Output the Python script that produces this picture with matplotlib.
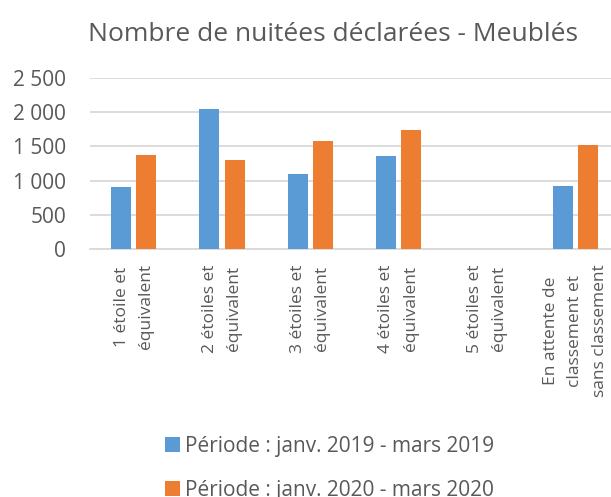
import numpy as np
import matplotlib
matplotlib.use("Agg")
import matplotlib.pyplot as plt
from matplotlib.ticker import FuncFormatter

categories = ["1 étoile et\néquivalent", "2 étoiles et\néquivalent", "3 étoiles et\néquivalent",
              "4 étoiles et\néquivalent", "5 étoiles et\néquivalent",
              "En attente de\nclassement et\nsans classement"]
serie_2019 = [911, 2051, 1096, 1364, 0, 921]
serie_2020 = [1368, 1295, 1579, 1740, 0, 1520]
labels = ["Période : janv. 2019 - mars 2019", "Période : janv. 2020 - mars 2020"]
yticks = [0, 500, 1000, 1500, 2000, 2500]

plt.rcParams['font.family'] = ['Open Sans', 'DejaVu Sans']
grey = "#595959"

fig = plt.figure(figsize=(6.11, 4.97), dpi=100)
ax = fig.add_axes([0.1466, 0.499, 0.867, 0.344])

x = np.arange(len(categories))
w = 0.227
ax.bar(x - 0.142, serie_2019, w, color="#5B9BD5", label=labels[0], zorder=3)
ax.bar(x + 0.142, serie_2020, w, color="#ED7D31", label=labels[1], zorder=3)

ax.set_xlim(-0.5, len(categories) - 0.5)
ax.set_ylim(0, 2500)
ax.set_yticks(yticks)
ax.yaxis.set_major_formatter(FuncFormatter(lambda v, p: "{:,.0f}".format(v).replace(",", " ")))
ax.grid(axis="y", color="#D9D9D9", lw=1.3, zorder=0)
for s in ["top", "right", "left"]:
    ax.spines[s].set_visible(False)
ax.spines["bottom"].set_color("#D9D9D9")
ax.spines["bottom"].set_linewidth(1.3)
ax.tick_params(length=0, colors=grey, labelsize=15)
ax.tick_params(axis="y", pad=17)
ax.set_xticks(x)
ax.set_xticklabels(categories, rotation=90, fontsize=12.5, va="top", ha="center",
                   linespacing=1.7)
ax.tick_params(axis="x", pad=11)

fig.text(0.545, 0.93, "Nombre de nuitées déclarées - Meublés", ha="center", va="center",
         fontsize=19, color=grey)

fig.legend(loc="center", bbox_to_anchor=(0.54, 0.058), ncol=1, frameon=False,
           fontsize=15, labelcolor=grey, handlelength=0.72, handleheight=0.72,
           handletextpad=0.25, labelspacing=1.1)

plt.savefig("out.png", dpi=100)
